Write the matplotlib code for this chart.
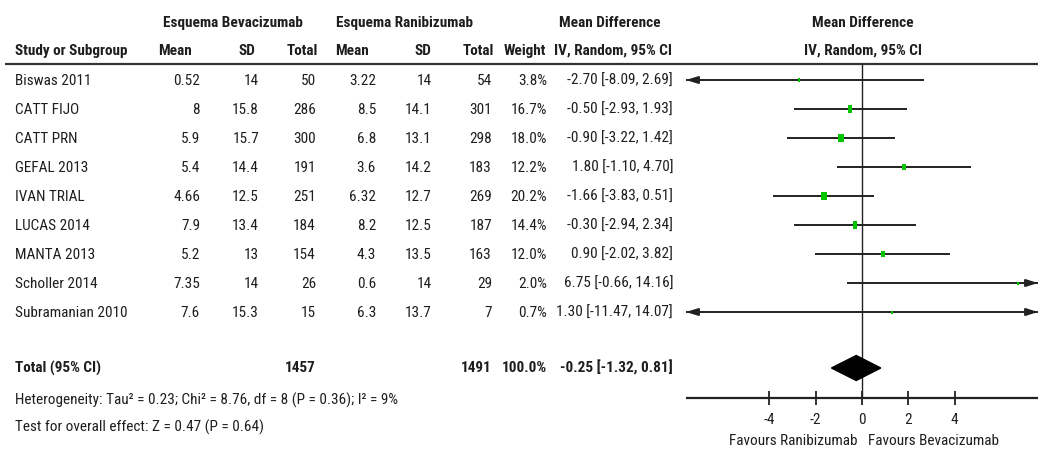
import matplotlib
matplotlib.use("Agg")
import matplotlib.pyplot as plt
import numpy as np

plt.rcParams['font.family'] = ['Roboto Condensed', 'DejaVu Sans']

# dados
studies = ['Biswas 2011', 'CATT FIJO', 'CATT PRN', 'GEFAL 2013', 'IVAN TRIAL',
           'LUCAS 2014', 'MANTA 2013', 'Scholler 2014', 'Subramanian 2010']
bev_mean = [0.52, 8, 5.9, 5.4, 4.66, 7.9, 5.2, 7.35, 7.6]
bev_sd = [14, 15.8, 15.7, 14.4, 12.5, 13.4, 13, 14, 15.3]
bev_n = [50, 286, 300, 191, 251, 184, 154, 26, 15]
ran_mean = [3.22, 8.5, 6.8, 3.6, 6.32, 8.2, 4.3, 0.6, 6.3]
ran_sd = [14, 14.1, 13.1, 14.2, 12.7, 12.5, 13.5, 14, 13.7]
ran_n = [54, 301, 298, 183, 269, 187, 163, 29, 7]
weights = [3.8, 16.7, 18.0, 12.2, 20.2, 14.4, 12.0, 2.0, 0.7]
md = [-2.70, -0.50, -0.90, 1.80, -1.66, -0.30, 0.90, 6.75, 1.30]
ci_lo = [-8.09, -2.93, -3.22, -1.10, -3.83, -2.94, -2.02, -0.66, -11.47]
ci_hi = [2.69, 1.93, 1.42, 4.70, 0.51, 2.34, 3.82, 14.16, 14.07]

total_bev = 1457
total_ran = 1491
total_weight = 100.0
total_md, total_lo, total_hi = -0.25, -1.32, 0.81
heterog = "Heterogeneity: Tau² = 0.23; Chi² = 8.76, df = 8 (P = 0.36); I² = 9%"
overall = "Test for overall effect: Z = 0.47 (P = 0.64)"

ticks = [-4, -2, 0, 2, 4]

W, H = 1038, 449
fig = plt.figure(figsize=(W / 100, H / 100), dpi=100)
fig.patch.set_facecolor('white')

txt = '#1e1e1e'
fs = 11

# eixo de texto (coordenadas em pixels)
ax_t = fig.add_axes([0, 0, 1, 1])
ax_t.set_xlim(0, W)
ax_t.set_ylim(H, 0)
ax_t.axis('off')

row_y = [81 + 29 * i for i in range(len(studies))]
total_y = 368

# cabecalhos
ax_t.text(233, 23, 'Esquema Bevacizumab', ha='center', va='center', fontsize=fs, fontweight='bold', color=txt)
ax_t.text(405, 23, 'Esquema Ranibizumab', ha='center', va='center', fontsize=fs, fontweight='bold', color=txt)
ax_t.text(610, 23, 'Mean Difference', ha='center', va='center', fontsize=fs, fontweight='bold', color=txt)
ax_t.text(863, 23, 'Mean Difference', ha='center', va='center', fontsize=fs, fontweight='bold', color=txt)
hdr = [('Study or Subgroup', 15, 'left'), ('Mean', 175, 'center'), ('SD', 247, 'center'),
       ('Total', 318, 'right'), ('Mean', 352, 'center'), ('SD', 423, 'center'),
       ('Total', 494, 'right'), ('Weight', 546, 'right'), ('IV, Random, 95% CI', 613, 'center'),
       ('IV, Random, 95% CI', 863, 'center')]
for s, x, ha in hdr:
    ax_t.text(x, 51, s, ha=ha, va='center', fontsize=fs, fontweight='bold', color=txt)

ax_t.hlines(64, 5, W, color='#333333', lw=1.6)

# linhas da tabela
for i, name in enumerate(studies):
    y = row_y[i]
    ax_t.text(15, y, name, ha='left', va='center', fontsize=fs, color=txt)
    ax_t.text(200, y, f"{bev_mean[i]:g}", ha='right', va='center', fontsize=fs, color=txt)
    ax_t.text(259, y, f"{bev_sd[i]:g}", ha='right', va='center', fontsize=fs, color=txt)
    ax_t.text(316, y, f"{bev_n[i]}", ha='right', va='center', fontsize=fs, color=txt)
    ax_t.text(376, y, f"{ran_mean[i]:g}", ha='right', va='center', fontsize=fs, color=txt)
    ax_t.text(432, y, f"{ran_sd[i]:g}", ha='right', va='center', fontsize=fs, color=txt)
    ax_t.text(492, y, f"{ran_n[i]}", ha='right', va='center', fontsize=fs, color=txt)
    ax_t.text(547, y, f"{weights[i]:.1f}%", ha='right', va='center', fontsize=fs, color=txt)
    ax_t.text(673, y, f"{md[i]:.2f} [{ci_lo[i]:.2f}, {ci_hi[i]:.2f}]", ha='right', va='center',
              fontsize=fs, color=txt)

# total
ax_t.text(15, total_y, 'Total (95% CI)', ha='left', va='center', fontsize=fs, fontweight='bold', color=txt)
ax_t.text(316, total_y, f"{total_bev}", ha='right', va='center', fontsize=fs, fontweight='bold', color=txt)
ax_t.text(492, total_y, f"{total_ran}", ha='right', va='center', fontsize=fs, fontweight='bold', color=txt)
ax_t.text(547, total_y, f"{total_weight:.1f}%", ha='right', va='center', fontsize=fs, fontweight='bold', color=txt)
ax_t.text(673, total_y, f"{total_md:.2f} [{total_lo:.2f}, {total_hi:.2f}]", ha='right', va='center',
          fontsize=fs, fontweight='bold', color=txt)
ax_t.text(15, 400, heterog, ha='left', va='center', fontsize=fs, color=txt)
ax_t.text(15, 427, overall, ha='left', va='center', fontsize=fs, color=txt)

# forest plot
x0 = 686
ax_f = fig.add_axes([x0 / W, 0, 1 - x0 / W, 1])
ax_f.set_xlim(-7.6, 7.6)
ax_f.set_ylim(H, 0)
ax_f.axis('off')
ax_f.patch.set_alpha(0)
xmin, xmax = ax_f.get_xlim()

line_c = '#222222'
ax_f.vlines(0, 64, 398, color=line_c, lw=1.0)

box = [(-0.3, -0.5), (0.3, -0.5), (0.3, 0.5), (-0.3, 0.5)]
for i in range(len(studies)):
    y = row_y[i] - 1
    lo = max(ci_lo[i], xmin)
    hi = min(ci_hi[i], xmax)
    ax_f.hlines(y, lo, hi, color=line_c, lw=1.4)
    if ci_lo[i] < xmin:
        ax_f.annotate('', xy=(xmin, y), xytext=(xmin + 0.6, y),
                      arrowprops=dict(arrowstyle='-|>,head_length=0.7,head_width=0.22',
                                      color=line_c, lw=1.4, shrinkA=0, shrinkB=0))
    if ci_hi[i] > xmax:
        ax_f.annotate('', xy=(xmax, y), xytext=(xmax - 0.6, y),
                      arrowprops=dict(arrowstyle='-|>,head_length=0.7,head_width=0.22',
                                      color=line_c, lw=1.4, shrinkA=0, shrinkB=0))
    h_px = max(3.0, 2.0 * np.sqrt(weights[i]))
    ax_f.plot(md[i], y, marker=box, markersize=h_px * 0.72, color='#00c400', markeredgewidth=0, zorder=3)

# diamante do total
dh = 12.5
ax_f.fill([total_lo, total_md, total_hi, total_md],
          [total_y, total_y - dh, total_y, total_y + dh], color='black', zorder=3)

# eixo x
ax_f.hlines(398, xmin, xmax, color=line_c, lw=1.6)
ax_f.vlines(ticks, 391, 405, color=line_c, lw=1.3)
for t in ticks:
    ax_f.text(t, 420, f"{t}", ha='center', va='center', fontsize=fs, color=txt)
ax_f.text(-0.2, 441, 'Favours Ranibizumab', ha='right', va='center', fontsize=fs, color=txt)
ax_f.text(0.25, 441, 'Favours Bevacizumab', ha='left', va='center', fontsize=fs, color=txt)

fig.savefig('out.png', dpi=100, facecolor='white')
